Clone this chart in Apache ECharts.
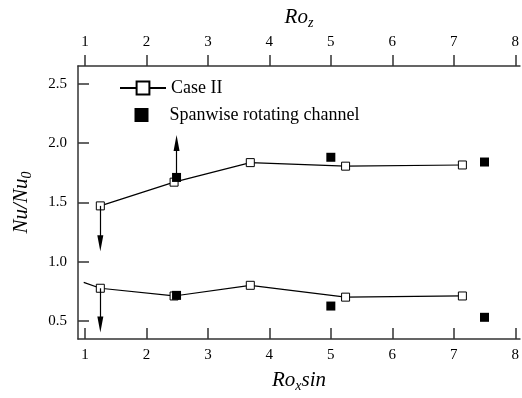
<!DOCTYPE html>
<html><head><meta charset="utf-8">
<script src="https://cdn.jsdelivr.net/npm/echarts@6/dist/echarts.min.js"></script>
<style>html,body{margin:0;padding:0;background:#fff}#c{width:522px;height:398px}</style>
</head><body><div id="c"></div>
<script>
// ---- data ----
const xTicks = [1, 2, 3, 4, 5, 6, 7, 8];
const yTicks = [0.5, 1.0, 1.5, 2.0, 2.5];
const caseIIUpperX = [1.25, 2.45, 3.69, 5.24, 7.14];
const caseIIUpperY = [1.47, 1.67, 1.835, 1.805, 1.815];
const caseIILowerX = [0.98, 1.25, 2.45, 3.69, 5.24, 7.14];
const caseIILowerY = [0.825, 0.775, 0.71, 0.80, 0.70, 0.71];
const spanX = [2.49, 2.49, 5.0, 5.0, 7.5, 7.5];
const spanY = [1.71, 0.715, 1.88, 0.625, 1.84, 0.53];
const arrowX = [2.49, 1.25, 1.25];
const arrowFromY = [1.71, 1.47, 0.775];
const arrowToY = [2.0, 1.155, 0.47];

const FONT = 'Liberation Serif';
const AX = '#333';

const chart = echarts.init(document.getElementById('c'), null, {renderer: 'canvas'});

const upper = caseIIUpperX.map((x, i) => [x, caseIIUpperY[i]]);
const lower = caseIILowerX.map((x, i) => i === 0 ? {value: [x, caseIILowerY[i]], symbol: 'none'} : [x, caseIILowerY[i]]);
const span = spanX.map((x, i) => [x, spanY[i]]);
const arrows = arrowX.map((x, i) => [{coord: [x, arrowFromY[i]]}, {coord: [x, arrowToY[i]]}]);

const lineSeriesBase = {
  type: 'line', name: 'Case II', symbol: 'rect', symbolSize: 8,
  lineStyle: {color: '#000', width: 1.2},
  itemStyle: {color: '#fff', borderColor: '#000', borderWidth: 1},
  silent: true, animation: false, z: 2
};

const titleRich = {
  i: {fontFamily: FONT, fontStyle: 'italic', fontSize: 21, color: '#000'},
  s: {fontFamily: FONT, fontStyle: 'italic', fontSize: 14, color: '#000', padding: [12, 0, 0, 0]}
};

chart.setOption({
  animation: false,
  backgroundColor: '#fff',
  grid: {left: 78, right: 0, top: 66, bottom: 53, containLabel: false, show: false},
  legend: [
    {data: ['Case II'], left: 114, top: 74, itemWidth: 46, itemHeight: 16, orient: 'vertical',
     textStyle: {fontFamily: FONT, fontSize: 18, color: '#000'}},
    {data: [{name: 'Spanwise rotating channel', icon: 'rect'}], left: 129.5, top: 101, itemWidth: 14, itemHeight: 14,
     orient: 'vertical',
     formatter: name => '{g|}' + name,
     textStyle: {fontFamily: FONT, fontSize: 18, color: '#000', rich: {g: {width: 16}}}}
  ],
  xAxis: [
    {type: 'value', position: 'bottom', min: 0.887, max: 8.076,
     name: '{i|Ro}{s|x}{i|sin}', nameLocation: 'middle', nameGap: 28,
     nameTextStyle: {rich: titleRich},
     axisLine: {show: true, onZero: false, lineStyle: {color: AX, width: 1.5}},
     axisTick: {show: true, inside: true, length: 11, customValues: xTicks, lineStyle: {color: AX, width: 1.5}},
     axisLabel: {show: true, margin: 9, customValues: xTicks, fontFamily: FONT, fontSize: 15, color: '#000'},
     splitLine: {show: false}},
    {type: 'value', position: 'top', min: 0.887, max: 8.076,
     name: '{i|Ro}{s|z}', nameLocation: 'middle', nameGap: 24,
     nameTextStyle: {rich: titleRich},
     axisLine: {show: true, onZero: false, lineStyle: {color: AX, width: 1.5}},
     axisTick: {show: true, inside: false, length: 11, customValues: xTicks, lineStyle: {color: AX, width: 1.5}},
     axisLabel: {show: true, margin: 16, customValues: xTicks, fontFamily: FONT, fontSize: 15, color: '#000'},
     splitLine: {show: false}}
  ],
  yAxis: [
    {type: 'value', min: 0.347, max: 2.65,
     name: '{i|Nu/Nu}{s|0}', nameLocation: 'middle', nameGap: 44,
     nameTextStyle: {rich: titleRich},
     axisLine: {show: true, onZero: false, lineStyle: {color: AX, width: 1.5}},
     axisTick: {show: true, inside: true, length: 11, customValues: yTicks, lineStyle: {color: AX, width: 1.5}},
     axisLabel: {show: true, margin: 11, customValues: yTicks, fontFamily: FONT, fontSize: 15, color: '#000',
                 formatter: v => v.toFixed(1)},
     splitLine: {show: false}}
  ],
  series: [
    Object.assign({}, lineSeriesBase, {data: upper}),
    Object.assign({}, lineSeriesBase, {data: lower}),
    {type: 'scatter', name: 'Spanwise rotating channel', symbol: 'rect', symbolSize: 9,
     itemStyle: {color: '#000', opacity: 1}, data: span, z: 3, silent: true,
     markLine: {silent: true, symbol: ['none', 'triangle'], symbolSize: [6, 16],
                lineStyle: {color: '#000', width: 1.2, type: 'solid'}, label: {show: false},
                emphasis: {disabled: true}, data: arrows}}
  ]
});
</script></body></html>
